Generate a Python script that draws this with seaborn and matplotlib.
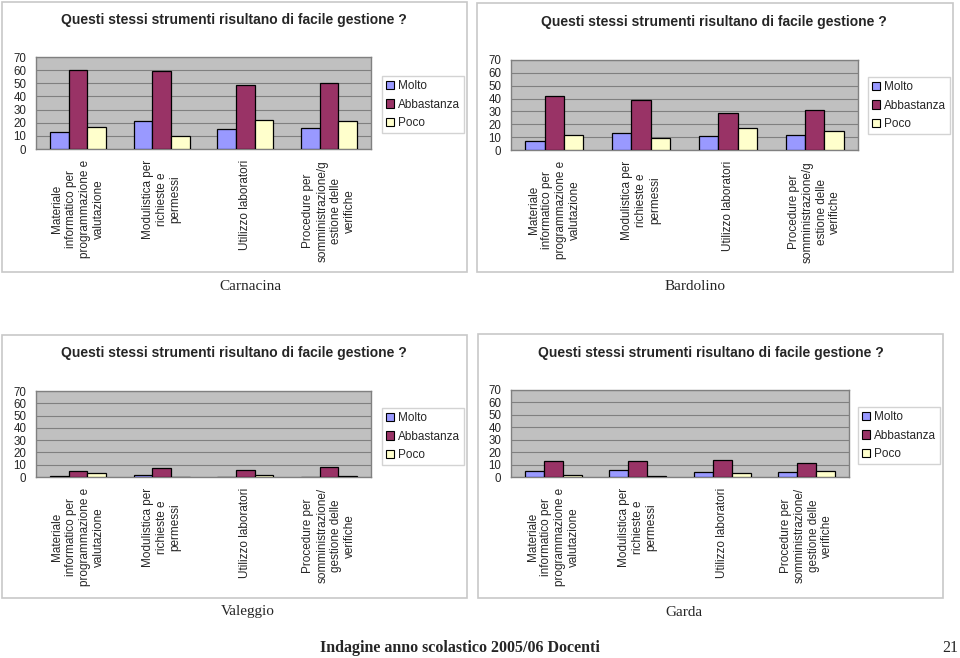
import matplotlib
matplotlib.use("Agg")
import matplotlib.pyplot as plt
import seaborn as sns
import pandas as pd
from matplotlib.patches import Rectangle, Patch

sns.set_style("white")
plt.rcParams['font.family'] = ['Liberation Sans', 'DejaVu Sans']

series = ["Molto", "Abbastanza", "Poco"]
colors = ["#9999FF", "#993366", "#FFFFCC"]

cats_a = ["Materiale\ninformatico per\nprogrammazione e\nvalutazione",
          "Modulistica per\nrichieste e\npermessi",
          "Utilizzo laboratori",
          "Procedure per\nsomministrazione/g\nestione delle\nverifiche"]
cats_b = ["Materiale\ninformatico per\nprogrammazione e\nvalutazione",
          "Modulistica per\nrichieste e\npermessi",
          "Utilizzo laboratori",
          "Procedure per\nsomministrazione/\ngestione delle\nverifiche"]

carnacina = {"Molto": [13, 21, 15, 16], "Abbastanza": [60, 59, 49, 50], "Poco": [17, 10, 22, 21]}
bardolino = {"Molto": [7, 13, 11, 12], "Abbastanza": [42, 39, 29, 31], "Poco": [12, 9, 17, 15]}
valeggio = {"Molto": [1, 2, 0, 0], "Abbastanza": [5, 7, 6, 8], "Poco": [3, 0, 2, 1]}
garda = {"Molto": [5, 6, 4, 4], "Abbastanza": [13, 13, 14, 11], "Poco": [2, 1, 3, 5]}

title = "Questi stessi strumenti risultano di facile gestione ?"
W, H = 960, 658

fig = plt.figure(figsize=(9.6, 6.58), dpi=100)
fig.patch.set_facecolor("white")


def fr(x0, y0, x1, y1):
    # pixel box -> figure fraction [l, b, w, h]
    return [x0 / W, 1 - y1 / H, (x1 - x0) / W, (y1 - y0) / H]


def panel(data, cats, name, frame, plot, leg, title_xy, name_xy):
    l, b, w, h = fr(*frame)
    fig.add_artist(Rectangle((l, b), w, h, transform=fig.transFigure,
                             fill=False, edgecolor="#C8C8C8", linewidth=1.2))
    rows = []
    for s in series:
        for c, v in zip(cats, data[s]):
            rows.append({"cat": c, "serie": s, "val": v})
    df = pd.DataFrame(rows)
    ax = fig.add_axes(fr(*plot))
    ax.set_facecolor("#C0C0C0")
    sns.barplot(data=df, x="cat", y="val", hue="serie", order=cats, hue_order=series,
                palette=colors, edgecolor="black", linewidth=0.9, width=0.67,
                saturation=1, legend=False, ax=ax, zorder=3)
    ax.set_ylim(0, 70)
    ax.set_yticks(range(0, 71, 10))
    ax.yaxis.grid(True, color="#808080", linewidth=0.8, zorder=0)
    ax.set_axisbelow(True)
    ax.set_xlim(-0.5, 3.5)
    ax.set_xlabel("")
    ax.set_ylabel("")
    for sp in ax.spines.values():
        sp.set_color("#808080")
        sp.set_linewidth(1)
    ax.tick_params(axis="y", labelsize=8.3, length=0, pad=7)
    ax.tick_params(axis="x", labelsize=8.5, length=0, pad=8)
    ax.set_xticks(range(4))
    ax.set_xticklabels(cats, rotation=90, ha="center", va="top",
                       multialignment="center", linespacing=1.2)
    ax.set_xticks([0.5, 1.5, 2.5], minor=True)
    ax.tick_params(axis="x", which="minor", length=3, color="#808080")
    handles = [Patch(facecolor=c, edgecolor="black", linewidth=0.8) for c in colors]
    ax.legend(handles, series, loc="upper left",
              bbox_to_anchor=(leg[0] / W, 1 - leg[1] / H), bbox_transform=fig.transFigure,
              fontsize=8.5, frameon=True, fancybox=False, edgecolor="#C8C8C8",
              borderpad=0.35, labelspacing=0.55, handlelength=0.7, handleheight=0.7,
              handletextpad=0.3, borderaxespad=0)
    fig.text(title_xy[0] / W, 1 - title_xy[1] / H, title, ha="center", va="center",
             fontsize=10, fontweight="bold")
    fig.text(name_xy[0] / W, 1 - name_xy[1] / H, name, ha="center", va="center",
             fontsize=11, family="Liberation Serif")


panel(carnacina, cats_a, "Carnacina", (2, 2, 467, 272), (36, 57, 371, 149),
      (382, 76), (234, 20), (250, 287))
panel(bardolino, cats_a, "Bardolino", (477, 3, 953, 272), (511, 60, 858, 150),
      (868, 77), (714, 22), (695, 287))
panel(valeggio, cats_b, "Valeggio", (2, 335, 467, 598), (36, 391, 371, 477),
      (382, 408), (234, 353), (248, 612))
panel(garda, cats_b, "Garda", (478, 334, 943, 598), (511, 390, 849, 477),
      (858, 407), (711, 353), (684, 612))

fig.text(320 / W, 1 - 648 / H, "Indagine anno scolastico 2005/06 Docenti", ha="left",
         va="center", fontsize=11.5, fontweight="bold", family="Liberation Serif")
fig.text(958 / W, 1 - 648 / H, "21", ha="right", va="center", fontsize=11.5,
         family="Liberation Serif")

fig.savefig("out.png", dpi=100)
